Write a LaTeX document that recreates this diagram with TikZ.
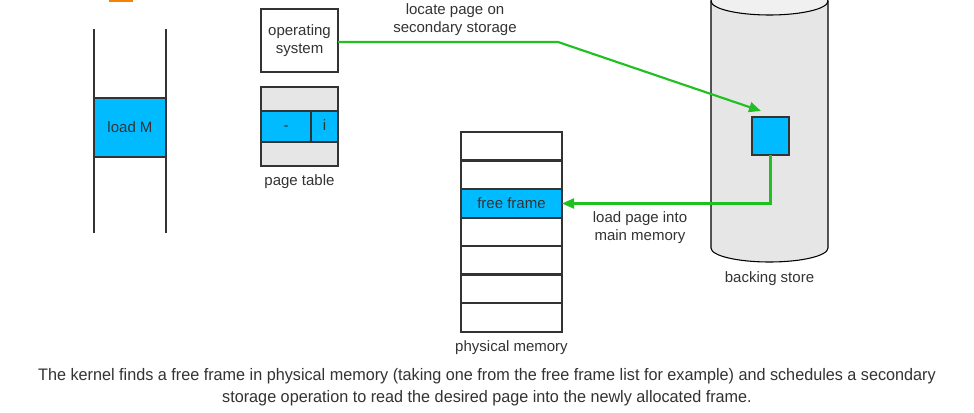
\documentclass[tikz,border=0pt]{standalone}
\usepackage{fontspec}
\setmainfont{Liberation Sans}
\newfontfamily\capfont[FakeStretch=0.972]{Liberation Sans}
\usetikzlibrary{arrows.meta,fit,calc}
\definecolor{txt}{HTML}{333333}
\definecolor{blu}{RGB}{0,187,255}
\definecolor{gry}{HTML}{E6E6E6}
\definecolor{gtop}{HTML}{F0F0F0}
\definecolor{grn}{RGB}{32,192,32}
\definecolor{org}{RGB}{245,130,0}
\tikzset{
  box/.style={draw=txt,line width=1.7pt,inner sep=0pt,outer sep=0pt},
  bluebox/.style={box,fill=blu},
  graybox/.style={box,fill=gry},
  lbl/.style={text=txt,font=\fontsize{11.25}{13.5}\selectfont,align=center,inner sep=0pt},
  chr/.style={text=txt,font=\fontsize{11.25}{13.5}\selectfont,inner sep=0pt,anchor=base},
  link/.style={draw=grn,line width=1.6pt,-{Triangle[length=9pt,width=7.5pt]}},
}
\begin{document}
\begin{tikzpicture}[x=0.75pt,y=-0.75pt]
\clip (0,0) rectangle (974,413);
\fill[white] (0,0) rectangle (974,413);
% orange mark
\fill[org] (109,0) rectangle (133,2.5);
% left stack
\node[bluebox,fit={(94,98)(166,157)}] (loadm) {};
\node[lbl] (loadmt) at (loadm.center) {load M};
\coordinate (l1) at (94,29); \coordinate (l2) at (94,233);
\coordinate (r1) at (166,29); \coordinate (r2) at (166,233);
\draw[txt,line width=2pt] (l1) -- (l2);
\draw[txt,line width=2pt] (r1) -- (r2);
% operating system
\node[box,fill=white,fit={(261,9)(338,72)}] (os) {};
\node[lbl] (ost) at (os.center) {operating\\system};
% page table
\node[graybox,fit={(261,87)(338,166)}] (pt) {};
\node[bluebox,fit={(261,111)(311,142)}] (ptd) {};
\node[bluebox,fit={(311,111)(338,142)}] (pti) {};
\node[chr] (ptdt) at ($(ptd.center)+(0,4.5)$) {-};
\node[chr] (ptit) at ($(pti.center)+(0,4.5)$) {i};
\node[lbl,anchor=north] (ptl) at (299.5,174) {page table};
% physical memory
\node[box,fit={(461,132)(562,160.5)}] (m1) {};
\node[box,fit={(461,160.5)(562,189)}] (m2) {};
\node[bluebox,fit={(461,189)(562,218)}] (free) {};
\node[lbl] (freet) at (free.center) {free frame};
\node[box,fit={(461,218)(562,246)}] (m4) {};
\node[box,fit={(461,246)(562,274.5)}] (m5) {};
\node[box,fit={(461,274.5)(562,303)}] (m6) {};
\node[box,fit={(461,303)(562,332)}] (m7) {};
\node[lbl,anchor=north] (pml) at (511.5,340) {physical memory};
% backing store cylinder
\fill[gry] (711,1) -- (711,248) arc[start angle=180,end angle=360,x radius=43.875pt,y radius=10.5pt] -- (828,1) -- cycle;
\draw[black,line width=0.8pt] (711,1) -- (711,248) arc[start angle=180,end angle=360,x radius=43.875pt,y radius=10.5pt] -- (828,1);
\draw[black,line width=0.8pt,fill=gtop] (769.5,1) ellipse[x radius=43.875pt,y radius=10.5pt];
\node[bluebox,fit={(752,117)(789,155)}] (sq) {};
\node[lbl,anchor=north] (bsl) at (769.5,271) {backing store};
% arrows
\coordinate (bend) at (558,42);
\coordinate (tip) at ($(sq.north west)+(9,-6)$);
\draw[link] (os.east|-bend) -- (bend) -- (tip);
\draw[link] (sq.south) |- (free.east);
\node[lbl,anchor=north] (loc) at (455,3) {locate page on\\secondary storage};
\node[lbl,anchor=north] (ld) at (640,211.5) {load page into\\main memory};
% caption
\node[text=txt,inner sep=0pt,align=center,font=\capfont\fontsize{12.5}{16.5}\selectfont,anchor=north] (cap) at (487,368)
{The kernel finds a free frame in physical memory (taking one from the free frame list for example) and schedules a secondary\\storage operation to read the desired page into the newly allocated frame.};
\end{tikzpicture}
\end{document}
